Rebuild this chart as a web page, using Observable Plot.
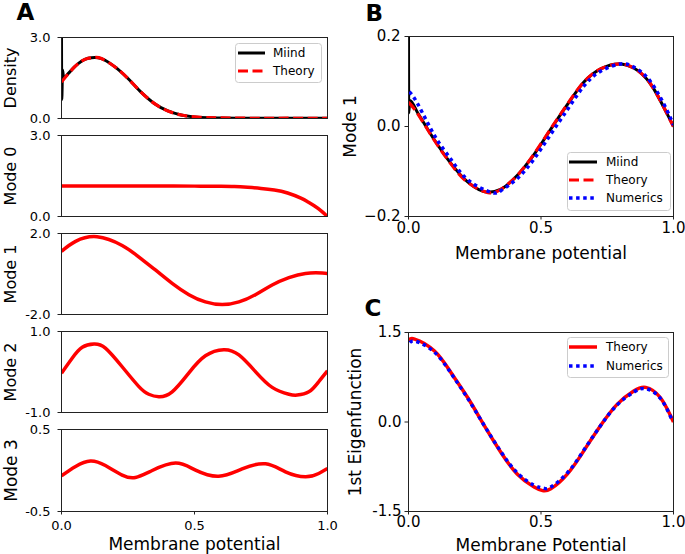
<!DOCTYPE html>
<html>
<head>
<meta charset="utf-8">
<script src="https://cdn.jsdelivr.net/npm/d3@7"></script>
<script src="https://cdn.jsdelivr.net/npm/@observablehq/plot@0.6"></script>
<style>
  html, body { margin: 0; padding: 0; background: #fff; }
  #fig { position: relative; width: 685px; height: 554px; overflow: hidden; background: #fff; font-family: "DejaVu Sans", sans-serif; }
  #fig svg { position: absolute; overflow: visible; }
</style>
</head>
<body>
<div id="fig"></div>
<script>
// ---------------- DATA ----------------
// Panel A: stationary density
const densX      = [0, 0.025, 0.05, 0.075, 0.1, 0.125, 0.15, 0.2, 0.25, 0.3, 0.35, 0.4, 0.45, 0.5, 0.55, 0.6, 0.7, 0.8, 0.9, 1.0];
const densTheory = [1.35, 1.65, 1.92, 2.12, 2.23, 2.26, 2.22, 1.92, 1.48, 0.97, 0.55, 0.28, 0.13, 0.06, 0.03, 0.02, 0.01, 0.01, 0.01, 0.01];
const densMiindX = [0, 0.001, 0.004, 0.008, 0.025, 0.05, 0.075, 0.1, 0.125, 0.15, 0.2, 0.25, 0.3, 0.35, 0.4, 0.45, 0.5, 0.55, 0.6, 0.7, 0.8, 0.9, 1.0];
const densMiind  = [3.0, 0.7, 1.8, 1.5, 1.66, 1.92, 2.12, 2.23, 2.26, 2.22, 1.92, 1.48, 0.97, 0.55, 0.28, 0.13, 0.06, 0.03, 0.02, 0.01, 0.01, 0.01, 0.01];

// Panel A: modes 0-3 (theory)
const mode0X = [0, 0.1, 0.2, 0.3, 0.4, 0.5, 0.6, 0.65, 0.7, 0.75, 0.8, 0.85, 0.9, 0.925, 0.95, 0.975, 1.0];
const mode0  = [1.13, 1.13, 1.13, 1.13, 1.13, 1.125, 1.12, 1.11, 1.08, 1.04, 0.98, 0.87, 0.68, 0.55, 0.4, 0.22, 0.0];
const mode1X = [0, 0.053, 0.134, 0.228, 0.29, 0.353, 0.416, 0.479, 0.541, 0.604, 0.667, 0.729, 0.792, 0.855, 0.917, 0.98, 1.0];
const mode1  = [1.12, 1.61, 1.84, 1.41, 0.85, 0.2, -0.46, -1.02, -1.38, -1.51, -1.38, -1.02, -0.54, -0.18, 0.03, 0.05, 0.02];
const mode2X = [0, 0.04, 0.078, 0.122, 0.165, 0.228, 0.291, 0.328, 0.366, 0.416, 0.479, 0.541, 0.61, 0.667, 0.729, 0.792, 0.855, 0.886, 0.93, 0.967, 1.0];
const mode2  = [-0.03, 0.34, 0.61, 0.69, 0.59, 0.13, -0.36, -0.55, -0.61, -0.49, -0.02, 0.4, 0.55, 0.42, 0.01, -0.38, -0.55, -0.57, -0.49, -0.24, 0.03];
const mode3X = [0, 0.053, 0.109, 0.165, 0.228, 0.278, 0.341, 0.429, 0.504, 0.591, 0.679, 0.767, 0.842, 0.917, 0.967, 1.0];
const mode3  = [-0.065, 0.05, 0.115, 0.06, -0.056, -0.085, 0.0, 0.09, 0.004, -0.07, 0.02, 0.082, -0.016, -0.077, -0.036, 0.024];

// Panel B: Mode 1 (Miind / Theory / Numerics)
const bTheoryX = [0, 0.035, 0.098, 0.16, 0.223, 0.3, 0.35, 0.41, 0.474, 0.537, 0.6, 0.662, 0.725, 0.794, 0.85, 0.913, 0.976, 1.0];
const bTheory  = [0.054, 0.028, -0.031, -0.083, -0.124, -0.147, -0.139, -0.109, -0.061, -0.005, 0.05, 0.099, 0.128, 0.139, 0.13, 0.095, 0.028, 0.0];
const bMiindX  = [0, 0.001, 0.005, 0.035, 0.098, 0.16, 0.223, 0.3, 0.35, 0.41, 0.474, 0.537, 0.6, 0.662, 0.725, 0.794, 0.85, 0.913, 0.976, 1.0];
const bMiind   = [0.2, 0.03, 0.058, 0.03, -0.03, -0.082, -0.123, -0.146, -0.139, -0.109, -0.062, -0.006, 0.049, 0.099, 0.128, 0.139, 0.13, 0.095, 0.028, 0.0];
const bNumX    = [0.003, 0.035, 0.1, 0.16, 0.223, 0.31, 0.35, 0.41, 0.474, 0.537, 0.6, 0.662, 0.725, 0.8, 0.85, 0.913, 0.976, 1.0];
const bNum     = [0.077, 0.05, -0.022, -0.073, -0.118, -0.146, -0.142, -0.116, -0.072, -0.017, 0.038, 0.09, 0.123, 0.139, 0.132, 0.1, 0.035, 0.003];

// Panel C: 1st eigenfunction (Theory / Numerics)
const cTheoryX = [0, 0.023, 0.098, 0.16, 0.223, 0.286, 0.349, 0.41, 0.474, 0.506, 0.537, 0.6, 0.662, 0.725, 0.788, 0.85, 0.895, 0.95, 1.0];
const cTheory  = [1.36, 1.39, 1.19, 0.83, 0.41, -0.06, -0.51, -0.87, -1.09, -1.15, -1.12, -0.87, -0.48, -0.06, 0.3, 0.52, 0.58, 0.41, 0.0];
const cNumX    = [0.005, 0.03, 0.098, 0.16, 0.223, 0.286, 0.349, 0.41, 0.474, 0.51, 0.537, 0.6, 0.662, 0.725, 0.788, 0.85, 0.895, 0.95, 0.995];
const cNum     = [1.33, 1.35, 1.17, 0.82, 0.4, -0.06, -0.5, -0.85, -1.06, -1.11, -1.09, -0.85, -0.47, -0.06, 0.29, 0.5, 0.56, 0.4, 0.03];

// Tick values / labels
const xTickVals   = [0, 0.5, 1];
const xTickLabels = ["0.0", "0.5", "1.0"];
const densTicks = [0, 3],  densTickLabels = ["0.0", "3.0"];
const m1Ticks = [-2, 2],   m1TickLabels = ["-2.0", "2.0"];
const m2Ticks = [-1, 1],   m2TickLabels = ["-1.0", "1.0"];
const m3Ticks = [-0.5, 0.5], m3TickLabels = ["-0.5", "0.5"];
const bTicks = [-0.2, 0, 0.2], bTickLabels = ["\u22120.2", "0.0", "0.2"];
const cTicks = [-1.5, 0, 1.5], cTickLabels = ["-1.5", "0.0", "1.5"];

// ---------------- DRAWING ----------------
const FONT = "'DejaVu Sans', sans-serif";
const fig = document.getElementById("fig");
const pts = (xs, ys) => xs.map((x, i) => ({x, y: ys[i]}));

const STY = {
  miind:  {stroke: "#000000", strokeWidth: 3, strokeDasharray: null, curve: "monotone-x"},
  theoryDash: {stroke: "#ff0000", strokeWidth: 3.2, strokeDasharray: "10,4.5", curve: "natural"},
  theorySolid: {stroke: "#ff0000", strokeWidth: 3.5, strokeDasharray: null, curve: "natural"},
  numerics: {stroke: "#0000ff", strokeWidth: 3.5, strokeDasharray: "3.5,3.6", curve: "natural"}
};

function subplot(cfg) {
  const {frame, yDomain, yTicks, yTickLabels, yLabel, yLabelDx, yPad, tickFont, labelFont,
         xTicks, xPad, xLabel, xLabelDy, series, letter, letterDx, letterDy} = cfg;
  const ML = 75, MT = 40, MR = 15, MB = 50;
  const fw = frame.right - frame.left, fh = frame.bottom - frame.top;
  const marks = [];
  for (const s of series) {
    const st = STY[s.style];
    marks.push(Plot.line(pts(s.x, s.y), {
      x: "x", y: "y", curve: st.curve, clip: true,
      stroke: st.stroke, strokeWidth: st.strokeWidth, strokeDasharray: st.strokeDasharray,
      strokeLinecap: "butt", strokeLinejoin: "round"
    }));
  }
  marks.push(Plot.frame({stroke: "#222", strokeWidth: 1}));
  const yFmt = new Map(yTicks.map((t, i) => [t, yTickLabels[i]]));
  marks.push(Plot.axisY({ticks: yTicks, tickFormat: d => yFmt.get(d), tickSize: 3.5, tickPadding: yPad,
                         fontSize: tickFont, label: null, stroke: "#222"}));
  if (xTicks) {
    const xFmt = new Map(xTickVals.map((t, i) => [t, xTickLabels[i]]));
    marks.push(Plot.axisX({ticks: xTickVals, tickFormat: d => xFmt.get(d), tickSize: 3.5, tickPadding: xPad,
                           fontSize: tickFont, label: null, anchor: "bottom", stroke: "#222"}));
  }
  if (xLabel) {
    marks.push(Plot.text([xLabel], {text: d => d, frameAnchor: "bottom", lineAnchor: "bottom",
                                    textAnchor: "middle", dy: xLabelDy, fontSize: labelFont, fill: "#000"}));
  }
  marks.push(Plot.text([yLabel], {text: d => d, frameAnchor: "left", rotate: -90, textAnchor: "middle",
                                  lineAnchor: "top", dx: yLabelDx, fontSize: labelFont, fill: "#000"}));
  if (letter) {
    marks.push(Plot.text([letter], {text: d => d, frameAnchor: "top-left", textAnchor: "start", lineAnchor: "bottom",
                                    dx: letterDx, dy: letterDy, fontSize: 23, fontWeight: "bold", fill: "#000"}));
  }
  const svg = Plot.plot({
    width: ML + fw + MR, height: MT + fh + MB,
    marginLeft: ML, marginTop: MT, marginRight: MR, marginBottom: MB,
    x: {domain: [0, 1], axis: xTicks ? undefined : null},
    y: {domain: yDomain},
    style: {background: "transparent", overflow: "visible", fontFamily: FONT, color: "#000",
            position: "absolute", left: (frame.left - ML) + "px", top: (frame.top - MT) + "px", maxWidth: "none"},
    marks
  });
  fig.append(svg);
}

function legend(box, rows) {
  const svg = d3.select(fig).append("svg")
    .attr("width", box.w).attr("height", box.h)
    .style("left", box.left + "px").style("top", box.top + "px");
  svg.append("rect").attr("x", 0.5).attr("y", 0.5).attr("width", box.w - 1).attr("height", box.h - 1)
    .attr("rx", 3).attr("fill", "#fff").attr("fill-opacity", 0.8).attr("stroke", "#cccccc").attr("stroke-width", 1);
  rows.forEach((r, i) => {
    const st = STY[r.style];
    const y = box.row0 + i * box.step;
    svg.append("line").attr("x1", box.lx1).attr("x2", box.lx2).attr("y1", y).attr("y2", y)
      .attr("stroke", st.stroke).attr("stroke-width", st.strokeWidth)
      .attr("stroke-dasharray", st.strokeDasharray).attr("stroke-linecap", "butt");
    svg.append("text").attr("x", box.tx).attr("y", y).attr("dy", "0.35em")
      .attr("font-family", FONT).attr("font-size", 12).attr("fill", "#000").text(r.label);
  });
}

// Panel A
const aLeft = 61, aRight = 327;
const aCommon = {tickFont: 13, labelFont: 16, yPad: 7.5, yLabelDx: -57};
subplot({...aCommon, frame: {left: aLeft, right: aRight, top: 37, bottom: 118}, yDomain: [0, 3],
  yTicks: densTicks, yTickLabels: densTickLabels, yLabel: "Density",
  series: [{x: densMiindX, y: densMiind, style: "miind"}, {x: densX, y: densTheory, style: "theoryDash"}],
  letter: "A", letterDx: -45, letterDy: -18});
subplot({...aCommon, frame: {left: aLeft, right: aRight, top: 135, bottom: 216}, yDomain: [0, 3],
  yTicks: densTicks, yTickLabels: densTickLabels, yLabel: "Mode 0",
  series: [{x: mode0X, y: mode0, style: "theorySolid"}]});
subplot({...aCommon, frame: {left: aLeft, right: aRight, top: 233, bottom: 314}, yDomain: [-2, 2],
  yTicks: m1Ticks, yTickLabels: m1TickLabels, yLabel: "Mode 1",
  series: [{x: mode1X, y: mode1, style: "theorySolid"}]});
subplot({...aCommon, frame: {left: aLeft, right: aRight, top: 331, bottom: 412}, yDomain: [-1, 1],
  yTicks: m2Ticks, yTickLabels: m2TickLabels, yLabel: "Mode 2",
  series: [{x: mode2X, y: mode2, style: "theorySolid"}]});
subplot({...aCommon, frame: {left: aLeft, right: aRight, top: 429, bottom: 511}, yDomain: [-0.5, 0.5],
  yTicks: m3Ticks, yTickLabels: m3TickLabels, yLabel: "Mode 3",
  xTicks: true, xPad: 6, xLabel: "Membrane potential", xLabelDy: 38, labelFont: 17,
  series: [{x: mode3X, y: mode3, style: "theorySolid"}]});

// Panel B
subplot({frame: {left: 408, right: 673, top: 36, bottom: 216}, yDomain: [-0.2, 0.2],
  yTicks: bTicks, yTickLabels: bTickLabels, yLabel: "Mode 1", yLabelDx: -65, yPad: 4.5,
  tickFont: 15, labelFont: 17, xTicks: true, xPad: 2.5, xLabel: "Membrane potential", xLabelDy: 42,
  series: [{x: bMiindX, y: bMiind, style: "miind"}, {x: bTheoryX, y: bTheory, style: "theoryDash"},
           {x: bNumX, y: bNum, style: "numerics"}],
  letter: "B", letterDx: -43, letterDy: -16});

// Panel C
subplot({frame: {left: 408, right: 673, top: 332, bottom: 511}, yDomain: [-1.5, 1.5],
  yTicks: cTicks, yTickLabels: cTickLabels, yLabel: "1st Eigenfunction", yLabelDx: -60, yPad: 3.5,
  tickFont: 15, labelFont: 17, xTicks: true, xPad: 1.5, xLabel: "Membrane Potential", xLabelDy: 39,
  series: [{x: cTheoryX, y: cTheory, style: "theorySolid"}, {x: cNumX, y: cNum, style: "numerics"}],
  letter: "C", letterDx: -44, letterDy: -17});

// Legends
legend({left: 235, top: 43, w: 87, h: 40, row0: 10, step: 18, lx1: 3, lx2: 30, tx: 38},
  [{label: "Miind", style: "miind"}, {label: "Theory", style: "theoryDash"}]);
legend({left: 567, top: 152, w: 104, h: 59, row0: 10, step: 18, lx1: 2, lx2: 30, tx: 39},
  [{label: "Miind", style: "miind"}, {label: "Theory", style: "theoryDash"}, {label: "Numerics", style: "numerics"}]);
legend({left: 567, top: 337, w: 102, h: 41, row0: 10, step: 19, lx1: 2, lx2: 30, tx: 39},
  [{label: "Theory", style: "theorySolid"}, {label: "Numerics", style: "numerics"}]);
</script>
</body>
</html>
